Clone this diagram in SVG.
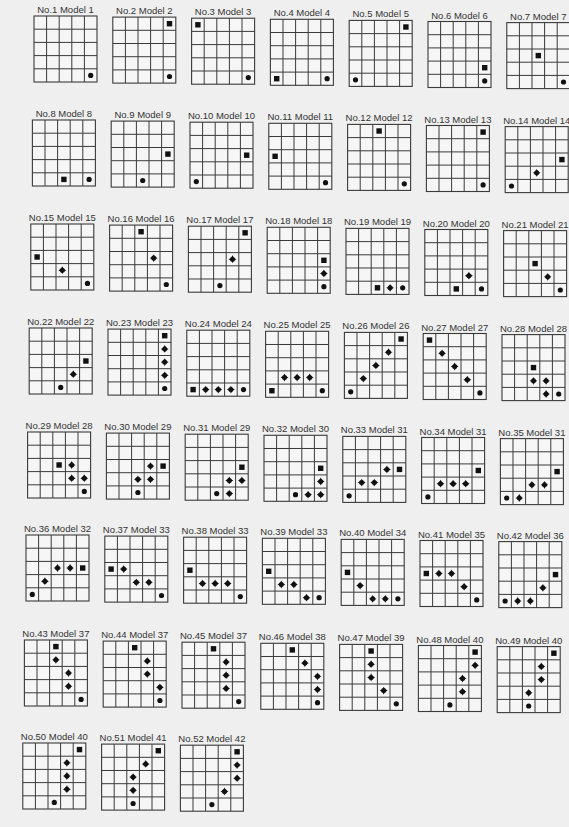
<svg xmlns="http://www.w3.org/2000/svg" width="569" height="827" viewBox="0 0 569 827">
<style>
.lb{font-family:"Liberation Sans",Arial,sans-serif;font-size:9.5px;fill:#333;text-anchor:middle}
.gb{fill:#f6f6f6;stroke:#3a3a3a;stroke-width:1.1}
.gl{fill:none;stroke:#3a3a3a;stroke-width:1}
.mk{fill:#111}
</style>
<defs>
<g id="grid"><rect class="gb" x="0" y="0" width="63" height="66"/><path class="gl" d="M12.6,0V66M25.2,0V66M37.8,0V66M50.4,0V66M0,13.2H63M0,26.4H63M0,39.6H63M0,52.8H63"/></g>
<rect id="S" class="mk" x="-2.7" y="-2.7" width="5.4" height="5.4"/>
<circle id="O" class="mk" r="2.6"/>
<g id="D" class="mk"><path d="M0,-3.9 Q0.8,-0.8 3.9,0 Q0.8,0.8 0,3.9 Q-0.8,0.8 -3.9,0 Q-0.8,-0.8 0,-3.9Z"/><circle r="2.5"/></g>
</defs>
<rect x="0" y="0" width="569" height="827" fill="#efefef"/>
<g id="connectors"/>
<g id="n1" transform="translate(34,16)"><text class="lb" x="31.5" y="-3">No.1 Model 1</text><use href="#grid"/><use href="#O" x="56.7" y="59.4"/></g>
<g id="n2" transform="translate(112.8,17.1)"><text class="lb" x="31.5" y="-3">No.2 Model 2</text><use href="#grid"/><use href="#S" x="56.7" y="6.6"/><use href="#O" x="56.7" y="59.4"/></g>
<g id="n3" transform="translate(191.6,18.2)"><text class="lb" x="31.5" y="-3">No.3 Model 3</text><use href="#grid"/><use href="#S" x="6.3" y="6.6"/><use href="#O" x="56.7" y="59.4"/></g>
<g id="n4" transform="translate(270.4,19.3)"><text class="lb" x="31.5" y="-3">No.4 Model 4</text><use href="#grid"/><use href="#S" x="6.3" y="59.4"/><use href="#O" x="56.7" y="59.4"/></g>
<g id="n5" transform="translate(349.2,20.4)"><text class="lb" x="31.5" y="-3">No.5 Model 5</text><use href="#grid"/><use href="#S" x="56.7" y="6.6"/><use href="#O" x="6.3" y="59.4"/></g>
<g id="n6" transform="translate(428,21.5)"><text class="lb" x="31.5" y="-3">No.6 Model 6</text><use href="#grid"/><use href="#S" x="56.7" y="46.2"/><use href="#O" x="56.7" y="59.4"/></g>
<g id="n7" transform="translate(506.8,22.6)"><text class="lb" x="31.5" y="-3">No.7 Model 7</text><use href="#grid"/><use href="#S" x="31.5" y="33"/><use href="#O" x="56.7" y="59.4"/></g>
<g id="n8" transform="translate(32.4,120)"><text class="lb" x="31.5" y="-3">No.8 Model 8</text><use href="#grid"/><use href="#S" x="31.5" y="59.4"/><use href="#O" x="56.7" y="59.4"/></g>
<g id="n9" transform="translate(111.2,121.1)"><text class="lb" x="31.5" y="-3">No.9 Model 9</text><use href="#grid"/><use href="#S" x="56.7" y="33"/><use href="#O" x="31.5" y="59.4"/></g>
<g id="n10" transform="translate(190,122.2)"><text class="lb" x="31.5" y="-3">No.10 Model 10</text><use href="#grid"/><use href="#S" x="56.7" y="33"/><use href="#O" x="6.3" y="59.4"/></g>
<g id="n11" transform="translate(268.8,123.3)"><text class="lb" x="31.5" y="-3">No.11 Model 11</text><use href="#grid"/><use href="#S" x="6.3" y="33"/><use href="#O" x="56.7" y="59.4"/></g>
<g id="n12" transform="translate(347.6,124.4)"><text class="lb" x="31.5" y="-3">No.12 Model 12</text><use href="#grid"/><use href="#S" x="31.5" y="6.6"/><use href="#O" x="56.7" y="59.4"/></g>
<g id="n13" transform="translate(426.4,125.5)"><text class="lb" x="31.5" y="-3">No.13 Model 13</text><use href="#grid"/><use href="#S" x="56.7" y="6.6"/><use href="#O" x="56.7" y="59.4"/></g>
<g id="n14" transform="translate(505.2,126.6)"><text class="lb" x="31.5" y="-3">No.14 Model 14</text><use href="#grid"/><use href="#S" x="56.7" y="33"/><use href="#D" x="31.5" y="46.2"/><use href="#O" x="6.3" y="59.4"/></g>
<g id="n15" transform="translate(30.8,224)"><text class="lb" x="31.5" y="-3">No.15 Model 15</text><use href="#grid"/><use href="#S" x="6.3" y="33"/><use href="#D" x="31.5" y="46.2"/><use href="#O" x="56.7" y="59.4"/></g>
<g id="n16" transform="translate(109.6,225.1)"><text class="lb" x="31.5" y="-3">No.16 Model 16</text><use href="#grid"/><use href="#S" x="31.5" y="6.6"/><use href="#D" x="44.1" y="33"/><use href="#O" x="56.7" y="59.4"/></g>
<g id="n17" transform="translate(188.4,226.2)"><text class="lb" x="31.5" y="-3">No.17 Model 17</text><use href="#grid"/><use href="#S" x="56.7" y="6.6"/><use href="#D" x="44.1" y="33"/><use href="#O" x="31.5" y="59.4"/></g>
<g id="n18" transform="translate(267.2,227.3)"><text class="lb" x="31.5" y="-3">No.18 Model 18</text><use href="#grid"/><use href="#S" x="56.7" y="33"/><use href="#D" x="56.7" y="46.2"/><use href="#O" x="56.7" y="59.4"/></g>
<g id="n19" transform="translate(346,228.4)"><text class="lb" x="31.5" y="-3">No.19 Model 19</text><use href="#grid"/><use href="#S" x="31.5" y="59.4"/><use href="#D" x="44.1" y="59.4"/><use href="#O" x="56.7" y="59.4"/></g>
<g id="n20" transform="translate(424.8,229.5)"><text class="lb" x="31.5" y="-3">No.20 Model 20</text><use href="#grid"/><use href="#S" x="31.5" y="59.4"/><use href="#D" x="44.1" y="46.2"/><use href="#O" x="56.7" y="59.4"/></g>
<g id="n21" transform="translate(503.6,230.6)"><text class="lb" x="31.5" y="-3">No.21 Model 21</text><use href="#grid"/><use href="#S" x="31.5" y="33"/><use href="#D" x="44.1" y="46.2"/><use href="#O" x="56.7" y="59.4"/></g>
<g id="n22" transform="translate(29.2,328)"><text class="lb" x="31.5" y="-3">No.22 Model 22</text><use href="#grid"/><use href="#S" x="56.7" y="33"/><use href="#D" x="44.1" y="46.2"/><use href="#O" x="31.5" y="59.4"/></g>
<g id="n23" transform="translate(108,329.1)"><text class="lb" x="31.5" y="-3">No.23 Model 23</text><use href="#grid"/><use href="#S" x="56.7" y="6.6"/><use href="#D" x="56.7" y="19.8"/><use href="#D" x="56.7" y="33"/><use href="#D" x="56.7" y="46.2"/><use href="#O" x="56.7" y="59.4"/></g>
<g id="n24" transform="translate(186.8,330.2)"><text class="lb" x="31.5" y="-3">No.24 Model 24</text><use href="#grid"/><use href="#S" x="6.3" y="59.4"/><use href="#D" x="18.9" y="59.4"/><use href="#D" x="31.5" y="59.4"/><use href="#D" x="44.1" y="59.4"/><use href="#O" x="56.7" y="59.4"/></g>
<g id="n25" transform="translate(265.6,331.3)"><text class="lb" x="31.5" y="-3">No.25 Model 25</text><use href="#grid"/><use href="#S" x="6.3" y="59.4"/><use href="#D" x="18.9" y="46.2"/><use href="#D" x="31.5" y="46.2"/><use href="#D" x="44.1" y="46.2"/><use href="#O" x="56.7" y="59.4"/></g>
<g id="n26" transform="translate(344.4,332.4)"><text class="lb" x="31.5" y="-3">No.26 Model 26</text><use href="#grid"/><use href="#S" x="56.7" y="6.6"/><use href="#D" x="44.1" y="19.8"/><use href="#D" x="31.5" y="33"/><use href="#D" x="18.9" y="46.2"/><use href="#O" x="6.3" y="59.4"/></g>
<g id="n27" transform="translate(423.2,333.5)"><text class="lb" x="31.5" y="-3">No.27 Model 27</text><use href="#grid"/><use href="#S" x="6.3" y="6.6"/><use href="#D" x="18.9" y="19.8"/><use href="#D" x="31.5" y="33"/><use href="#D" x="44.1" y="46.2"/><use href="#O" x="56.7" y="59.4"/></g>
<g id="n28" transform="translate(502,334.6)"><text class="lb" x="31.5" y="-3">No.28 Model 28</text><use href="#grid"/><use href="#S" x="31.5" y="33"/><use href="#D" x="31.5" y="46.2"/><use href="#D" x="44.1" y="46.2"/><use href="#D" x="44.1" y="59.4"/><use href="#O" x="56.7" y="59.4"/></g>
<g id="n29" transform="translate(27.6,432)"><text class="lb" x="31.5" y="-3">No.29 Model 28</text><use href="#grid"/><use href="#S" x="31.5" y="33"/><use href="#D" x="44.1" y="33"/><use href="#D" x="44.1" y="46.2"/><use href="#D" x="56.7" y="46.2"/><use href="#O" x="56.7" y="59.4"/></g>
<g id="n30" transform="translate(106.4,433.1)"><text class="lb" x="31.5" y="-3">No.30 Model 29</text><use href="#grid"/><use href="#S" x="56.7" y="33"/><use href="#D" x="44.1" y="33"/><use href="#D" x="31.5" y="46.2"/><use href="#D" x="44.1" y="46.2"/><use href="#O" x="31.5" y="59.4"/></g>
<g id="n31" transform="translate(185.2,434.2)"><text class="lb" x="31.5" y="-3">No.31 Model 29</text><use href="#grid"/><use href="#S" x="56.7" y="33"/><use href="#D" x="44.1" y="46.2"/><use href="#D" x="56.7" y="46.2"/><use href="#D" x="44.1" y="59.4"/><use href="#O" x="31.5" y="59.4"/></g>
<g id="n32" transform="translate(264,435.3)"><text class="lb" x="31.5" y="-3">No.32 Model 30</text><use href="#grid"/><use href="#S" x="56.7" y="33"/><use href="#D" x="56.7" y="46.2"/><use href="#D" x="56.7" y="59.4"/><use href="#D" x="44.1" y="59.4"/><use href="#O" x="31.5" y="59.4"/></g>
<g id="n33" transform="translate(342.8,436.4)"><text class="lb" x="31.5" y="-3">No.33 Model 31</text><use href="#grid"/><use href="#S" x="56.7" y="33"/><use href="#D" x="44.1" y="33"/><use href="#D" x="31.5" y="46.2"/><use href="#D" x="18.9" y="46.2"/><use href="#O" x="6.3" y="59.4"/></g>
<g id="n34" transform="translate(421.6,437.5)"><text class="lb" x="31.5" y="-3">No.34 Model 31</text><use href="#grid"/><use href="#S" x="56.7" y="33"/><use href="#D" x="44.1" y="46.2"/><use href="#D" x="31.5" y="46.2"/><use href="#D" x="18.9" y="46.2"/><use href="#O" x="6.3" y="59.4"/></g>
<g id="n35" transform="translate(500.4,438.6)"><text class="lb" x="31.5" y="-3">No.35 Model 31</text><use href="#grid"/><use href="#S" x="56.7" y="33"/><use href="#D" x="44.1" y="46.2"/><use href="#D" x="31.5" y="46.2"/><use href="#D" x="18.9" y="59.4"/><use href="#O" x="6.3" y="59.4"/></g>
<g id="n36" transform="translate(26,535)"><text class="lb" x="31.5" y="-3">No.36 Model 32</text><use href="#grid"/><use href="#S" x="56.7" y="33"/><use href="#D" x="44.1" y="33"/><use href="#D" x="31.5" y="33"/><use href="#D" x="18.9" y="46.2"/><use href="#O" x="6.3" y="59.4"/></g>
<g id="n37" transform="translate(104.8,536.1)"><text class="lb" x="31.5" y="-3">No.37 Model 33</text><use href="#grid"/><use href="#S" x="6.3" y="33"/><use href="#D" x="18.9" y="33"/><use href="#D" x="31.5" y="46.2"/><use href="#D" x="44.1" y="46.2"/><use href="#O" x="56.7" y="59.4"/></g>
<g id="n38" transform="translate(183.6,537.2)"><text class="lb" x="31.5" y="-3">No.38 Model 33</text><use href="#grid"/><use href="#S" x="6.3" y="33"/><use href="#D" x="18.9" y="46.2"/><use href="#D" x="31.5" y="46.2"/><use href="#D" x="44.1" y="46.2"/><use href="#O" x="56.7" y="59.4"/></g>
<g id="n39" transform="translate(262.4,538.3)"><text class="lb" x="31.5" y="-3">No.39 Model 33</text><use href="#grid"/><use href="#S" x="6.3" y="33"/><use href="#D" x="18.9" y="46.2"/><use href="#D" x="31.5" y="46.2"/><use href="#D" x="44.1" y="59.4"/><use href="#O" x="56.7" y="59.4"/></g>
<g id="n40" transform="translate(341.2,539.4)"><text class="lb" x="31.5" y="-3">No.40 Model 34</text><use href="#grid"/><use href="#S" x="6.3" y="33"/><use href="#D" x="18.9" y="46.2"/><use href="#D" x="31.5" y="59.4"/><use href="#D" x="44.1" y="59.4"/><use href="#O" x="56.7" y="59.4"/></g>
<g id="n41" transform="translate(420,540.5)"><text class="lb" x="31.5" y="-3">No.41 Model 35</text><use href="#grid"/><use href="#S" x="6.3" y="33"/><use href="#D" x="18.9" y="33"/><use href="#D" x="31.5" y="33"/><use href="#D" x="44.1" y="46.2"/><use href="#O" x="56.7" y="59.4"/></g>
<g id="n42" transform="translate(498.8,541.6)"><text class="lb" x="31.5" y="-3">No.42 Model 36</text><use href="#grid"/><use href="#S" x="56.7" y="33"/><use href="#D" x="44.1" y="46.2"/><use href="#D" x="31.5" y="59.4"/><use href="#D" x="18.9" y="59.4"/><use href="#O" x="6.3" y="59.4"/></g>
<g id="n43" transform="translate(24.4,640)"><text class="lb" x="31.5" y="-3">No.43 Model 37</text><use href="#grid"/><use href="#S" x="31.5" y="6.6"/><use href="#D" x="31.5" y="19.8"/><use href="#D" x="44.1" y="33"/><use href="#D" x="44.1" y="46.2"/><use href="#O" x="56.7" y="59.4"/></g>
<g id="n44" transform="translate(103.2,641.1)"><text class="lb" x="31.5" y="-3">No.44 Model 37</text><use href="#grid"/><use href="#S" x="31.5" y="6.6"/><use href="#D" x="44.1" y="19.8"/><use href="#D" x="44.1" y="33"/><use href="#D" x="56.7" y="46.2"/><use href="#O" x="56.7" y="59.4"/></g>
<g id="n45" transform="translate(182,642.2)"><text class="lb" x="31.5" y="-3">No.45 Model 37</text><use href="#grid"/><use href="#S" x="31.5" y="6.6"/><use href="#D" x="44.1" y="19.8"/><use href="#D" x="44.1" y="33"/><use href="#D" x="44.1" y="46.2"/><use href="#O" x="56.7" y="59.4"/></g>
<g id="n46" transform="translate(260.8,643.3)"><text class="lb" x="31.5" y="-3">No.46 Model 38</text><use href="#grid"/><use href="#S" x="31.5" y="6.6"/><use href="#D" x="44.1" y="19.8"/><use href="#D" x="56.7" y="33"/><use href="#D" x="56.7" y="46.2"/><use href="#O" x="56.7" y="59.4"/></g>
<g id="n47" transform="translate(339.6,644.4)"><text class="lb" x="31.5" y="-3">No.47 Model 39</text><use href="#grid"/><use href="#S" x="31.5" y="6.6"/><use href="#D" x="31.5" y="19.8"/><use href="#D" x="31.5" y="33"/><use href="#D" x="44.1" y="46.2"/><use href="#O" x="56.7" y="59.4"/></g>
<g id="n48" transform="translate(418.4,645.5)"><text class="lb" x="31.5" y="-3">No.48 Model 40</text><use href="#grid"/><use href="#S" x="56.7" y="6.6"/><use href="#D" x="56.7" y="19.8"/><use href="#D" x="44.1" y="33"/><use href="#D" x="44.1" y="46.2"/><use href="#O" x="31.5" y="59.4"/></g>
<g id="n49" transform="translate(497.2,646.6)"><text class="lb" x="31.5" y="-3">No.49 Model 40</text><use href="#grid"/><use href="#S" x="56.7" y="6.6"/><use href="#D" x="44.1" y="19.8"/><use href="#D" x="44.1" y="33"/><use href="#D" x="31.5" y="46.2"/><use href="#O" x="31.5" y="59.4"/></g>
<g id="n50" transform="translate(22.8,743)"><text class="lb" x="31.5" y="-3">No.50 Model 40</text><use href="#grid"/><use href="#S" x="56.7" y="6.6"/><use href="#D" x="44.1" y="19.8"/><use href="#D" x="44.1" y="33"/><use href="#D" x="44.1" y="46.2"/><use href="#O" x="31.5" y="59.4"/></g>
<g id="n51" transform="translate(101.6,744.1)"><text class="lb" x="31.5" y="-3">No.51 Model 41</text><use href="#grid"/><use href="#S" x="56.7" y="6.6"/><use href="#D" x="44.1" y="19.8"/><use href="#D" x="31.5" y="33"/><use href="#D" x="31.5" y="46.2"/><use href="#O" x="31.5" y="59.4"/></g>
<g id="n52" transform="translate(180.4,745.2)"><text class="lb" x="31.5" y="-3">No.52 Model 42</text><use href="#grid"/><use href="#S" x="56.7" y="6.6"/><use href="#D" x="56.7" y="19.8"/><use href="#D" x="56.7" y="33"/><use href="#D" x="44.1" y="46.2"/><use href="#O" x="31.5" y="59.4"/></g>
</svg>
